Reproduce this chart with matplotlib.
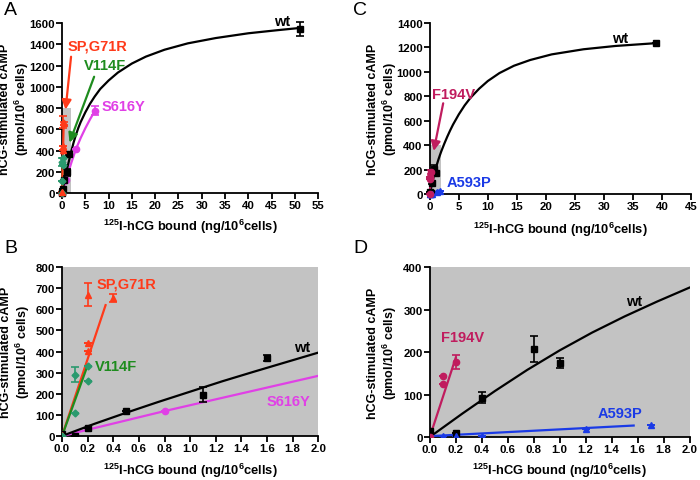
import numpy as np
import matplotlib
matplotlib.use("Agg")
import matplotlib.pyplot as plt
from matplotlib.patches import Rectangle

plt.rcParams['font.family'] = ['Liberation Sans', 'DejaVu Sans']
plt.rcParams['font.weight'] = 'bold'
plt.rcParams['mathtext.fontset'] = 'custom'
plt.rcParams['mathtext.rm'] = 'Liberation Sans:bold'
plt.rcParams['mathtext.bf'] = 'Liberation Sans:bold'
plt.rcParams['mathtext.default'] = 'bf'

# colours
BLACK = '#000000'
RED = '#ff3a1a'
GREEN = '#1e8c1e'
TEAL = '#2a9a6e'
MAGENTA = '#e040e6'
CRIMSON = '#c01c5e'
BLUE = '#1a3ae6'
GRAY = '#c3c3c3'

# ---- panels A / B data ----
wt_ab_x = [0, 0.1, 0.2, 0.5, 1.1, 1.6, 51]
wt_ab_y = [10, 0, 40, 120, 195, 370, 1545]
wt_ab_err = [0, 0, 0, 0, 35, 15, 70]
wt_ab_fit_x = [0, 0.25, 0.5, 0.75, 1, 1.25, 1.5, 1.75, 2, 2.5, 3, 3.5, 4, 5, 6, 7, 8.2,
               10, 12, 15, 18, 22, 27, 33, 40, 46, 51]
wt_ab_fit_y = [0, 57, 110, 161, 210, 259, 305, 350, 395, 478, 550, 613, 668, 760, 840, 908,
               980, 1060, 1135, 1220, 1285, 1350, 1410, 1460, 1505, 1533, 1555]

sp_x = [0, 0.2, 0.2, 0.2, 0.4]
sp_y = [5, 405, 440, 670, 655]
sp_err = [0, 0, 0, 55, 18]
sp_fit_x = [0, 0.34]
sp_fit_y = [0, 620]

v114_x = [0, 0.1, 0.1, 0.2, 0.2]
v114_y = [0, 110, 290, 260, 330]
v114_err = [0, 0, 35, 0, 0]
v114_fit_x = [0, 0.2]
v114_fit_y = [0, 335]

s616_x = [0, 0.8, 3, 7]
s616_y = [0, 120, 415, 775]
s616_err = [0, 0, 0, 40]
s616_fit_x = [0, 0.8, 2, 3, 4, 5, 6, 7]
s616_fit_y = [0, 118, 285, 415, 518, 610, 693, 770]

# ---- panels C / D data ----
wt_cd_x = [0, 0.2, 0.4, 0.8, 1.0, 39]
wt_cd_y = [15, 10, 93, 207, 175, 1235]
wt_cd_err = [0, 0, 13, 30, 12, 0]
wt_cd_fit_x = [0, 0.25, 0.5, 0.75, 1, 1.25, 1.5, 1.75, 2, 2.5, 3, 3.5, 4, 5, 6, 7, 8.5,
               10, 12, 14.5, 17.3, 21, 26.5, 32, 39]
wt_cd_fit_y = [0, 55, 108, 158, 204, 246, 284, 319, 352, 412, 468, 520, 568, 652, 725, 787,
               862, 925, 990, 1050, 1097, 1143, 1185, 1212, 1235]

f194_x = [0, 0.1, 0.1, 0.2]
f194_y = [0, 125, 143, 177]
f194_err = [0, 0, 0, 17]
f194_fit_x = [0, 0.2]
f194_fit_y = [0, 187]

a593_x = [0, 0.1, 0.2, 0.4, 1.2, 1.7]
a593_y = [0, 3, 2, 2, 20, 28]
a593_fit_x = [0, 1.57]
a593_fit_y = [2, 27]

XLABEL = r'$^{125}$I-hCG bound (ng/10$^{6}$cells)'
YLABEL = 'hCG-stimulated cAMP\n' + r'(pmol/10$^{6}$ cells)'

fig = plt.figure(figsize=(7, 4.81), dpi=100)
axA = fig.add_axes([0.0886, 0.5967, 0.366, 0.353])
axB = fig.add_axes([0.0886, 0.0915, 0.366, 0.351])
axC = fig.add_axes([0.614, 0.5946, 0.373, 0.3555])
axD = fig.add_axes([0.614, 0.0894, 0.371, 0.353])


def style(ax, xmax, xstep, ymax, ystep, xlab_y, ylab_x, xfmt=None):
    for s in ['top', 'right']:
        ax.spines[s].set_visible(False)
    for s in ['left', 'bottom']:
        ax.spines[s].set_linewidth(1.3)
    ax.set_xlim(0, xmax)
    ax.set_ylim(0, ymax)
    ax.set_xticks(np.arange(0, xmax + xstep / 2, xstep))
    ax.set_yticks(np.arange(0, ymax + ystep / 2, ystep))
    if xfmt:
        ax.set_xticklabels([xfmt % v for v in ax.get_xticks()])
    ax.tick_params(direction='out', length=4, width=1.3, labelsize=8.2, pad=1.2)
    for lab in ax.get_xticklabels() + ax.get_yticklabels():
        lab.set_fontweight('bold')
    ax.set_xlabel(XLABEL, fontsize=9.3, fontweight='bold', va='center')
    ax.set_ylabel(YLABEL, fontsize=9, fontweight='bold', linespacing=1.1, va='center')
    ax.xaxis.set_label_coords(0.5, xlab_y)
    ax.yaxis.set_label_coords(ylab_x, 0.5)


def series(ax, x, y, err, fx, fy, mcol, lcol, marker, ms):
    ax.plot(fx, fy, color=lcol, lw=1.6, zorder=3, clip_on=False)
    ax.errorbar(x, y, yerr=err, fmt=marker, color=mcol, ms=ms, capsize=3,
                elinewidth=1.2, capthick=1.2, zorder=4, clip_on=False)


def arrow(ax, text_xy, tip, tail, color, label):
    ax.annotate('', xy=tip, xytext=tail,
                arrowprops=dict(arrowstyle='-|>', color=color, lw=1.6, mutation_scale=14),
                annotation_clip=False, zorder=6)
    ax.text(text_xy[0], text_xy[1], label, color=color, fontsize=10.5,
            fontweight='bold', va='center', clip_on=False)


# ---- A ----
axA.add_patch(Rectangle((0, 0), 2, 800, color=GRAY, zorder=1, lw=0))
series(axA, s616_x, s616_y, s616_err, s616_fit_x, s616_fit_y, MAGENTA, MAGENTA, 'o', 4.5)
series(axA, wt_ab_x, wt_ab_y, wt_ab_err, wt_ab_fit_x, wt_ab_fit_y, BLACK, BLACK, 's', 5)
series(axA, v114_x, v114_y, v114_err, v114_fit_x, v114_fit_y, TEAL, GREEN, 'D', 3.5)
series(axA, sp_x, sp_y, sp_err, sp_fit_x, sp_fit_y, RED, RED, '^', 4.5)
arrow(axA, (1.3, 1390), (0.7, 760), (2.0, 1310), RED, 'SP,G71R')
arrow(axA, (4.6, 1205), (1.4, 450), (7.1, 1120), GREEN, 'V114F')
axA.text(8.6, 815, 'S616Y', color=MAGENTA, fontsize=10.5, fontweight='bold', va='center')
axA.text(45.6, 1625, 'wt', color=BLACK, fontsize=10.5, fontweight='bold', va='center', clip_on=False)
style(axA, 55, 5, 1600, 200, -0.194, -0.184)

# ---- B ----
axB.set_facecolor(GRAY)
series(axB, s616_x, s616_y, s616_err, s616_fit_x, s616_fit_y, MAGENTA, MAGENTA, 'o', 4.5)
series(axB, wt_ab_x, wt_ab_y, wt_ab_err, wt_ab_fit_x, wt_ab_fit_y, BLACK, BLACK, 's', 5)
series(axB, sp_x, sp_y, sp_err, sp_fit_x, sp_fit_y, RED, RED, '^', 4.5)
series(axB, v114_x, v114_y, v114_err, v114_fit_x, v114_fit_y, TEAL, GREEN, 'D', 3.5)
for ln in axB.lines:
    ln.set_clip_on(True)
axB.text(0.27, 723, 'SP,G71R', color=RED, fontsize=10.5, fontweight='bold', va='center')
axB.text(0.255, 333, 'V114F', color=GREEN, fontsize=10.5, fontweight='bold', va='center')
axB.text(1.81, 424, 'wt', color=BLACK, fontsize=10.5, fontweight='bold', va='center')
axB.text(1.6, 168, 'S616Y', color=MAGENTA, fontsize=10.5, fontweight='bold', va='center')
style(axB, 2.0, 0.2, 800, 100, -0.2, -0.18, '%.1f')

# ---- C ----
axC.add_patch(Rectangle((0, 0), 2, 400, color=GRAY, zorder=1, lw=0))
series(axC, wt_cd_x, wt_cd_y, wt_cd_err, wt_cd_fit_x, wt_cd_fit_y, BLACK, BLACK, 's', 5)
series(axC, a593_x, a593_y, [0] * len(a593_x), a593_fit_x, a593_fit_y, BLUE, BLUE, '^', 4.5)
series(axC, f194_x, f194_y, f194_err, f194_fit_x, f194_fit_y, CRIMSON, CRIMSON, 'o', 4.5)
arrow(axC, (0.3, 820), (0.58, 330), (2.4, 765), CRIMSON, 'F194V')
axC.text(2.9, 96, 'A593P', color=BLUE, fontsize=10.5, fontweight='bold', va='center')
axC.text(31.4, 1275, 'wt', color=BLACK, fontsize=10.5, fontweight='bold', va='center')
style(axC, 45, 5, 1400, 200, -0.205, -0.18)

# ---- D ----
axD.set_facecolor(GRAY)
series(axD, wt_cd_x, wt_cd_y, wt_cd_err, wt_cd_fit_x, wt_cd_fit_y, BLACK, BLACK, 's', 5)
series(axD, a593_x, a593_y, [0] * len(a593_x), a593_fit_x, a593_fit_y, BLUE, BLUE, '^', 4.5)
series(axD, f194_x, f194_y, f194_err, f194_fit_x, f194_fit_y, CRIMSON, CRIMSON, 'o', 4.5)
for ln in axD.lines:
    ln.set_clip_on(True)
axD.text(0.09, 236, 'F194V', color=CRIMSON, fontsize=10.5, fontweight='bold', va='center')
axD.text(1.51, 320, 'wt', color=BLACK, fontsize=10.5, fontweight='bold', va='center')
axD.text(1.29, 56, 'A593P', color=BLUE, fontsize=10.5, fontweight='bold', va='center')
style(axD, 2.0, 0.2, 400, 100, -0.195, -0.18, '%.1f')

# panel letters
for lab, (x, y) in zip('ABCD', [(4, 2), (4, 240), (353, 2), (353, 240)]):
    fig.text(x / 700, 1 - y / 481, lab, fontsize=14, fontweight='normal', va='top', ha='left')

fig.savefig('out.png', dpi=100)
